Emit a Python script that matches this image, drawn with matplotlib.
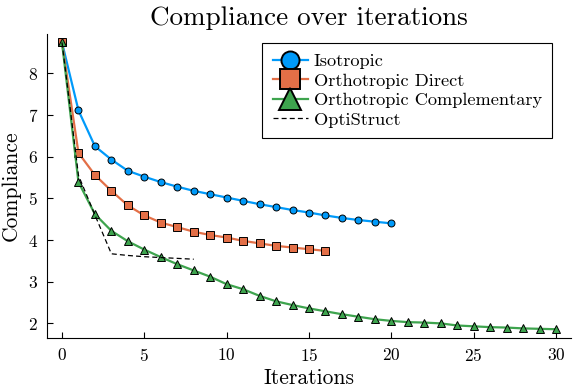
import numpy as np
import matplotlib
matplotlib.use('Agg')
import matplotlib.pyplot as plt

plt.rcParams['font.family'] = 'cmr10'
plt.rcParams['mathtext.fontset'] = 'cm'
plt.rcParams['axes.formatter.use_mathtext'] = True

# Данные
iso_x = list(range(0, 21))
iso_y = [8.74, 7.11, 6.25, 5.93, 5.66, 5.52, 5.39, 5.28, 5.18, 5.10, 5.02,
         4.94, 4.86, 4.79, 4.72, 4.66, 4.59, 4.53, 4.48, 4.44, 4.40]

dir_x = list(range(0, 17))
dir_y = [8.74, 6.09, 5.56, 5.18, 4.83, 4.59, 4.42, 4.31, 4.20, 4.12, 4.06,
         3.98, 3.92, 3.86, 3.82, 3.78, 3.74]

comp_x = list(range(0, 31))
comp_y = [8.74, 5.39, 4.62, 4.22, 3.97, 3.77, 3.59, 3.42, 3.27, 3.12, 2.94,
          2.82, 2.66, 2.53, 2.44, 2.36, 2.29, 2.22, 2.16, 2.10, 2.06,
          2.03, 2.02, 2.00, 1.95, 1.93, 1.91, 1.90, 1.88, 1.87, 1.86]

opti_x = [0, 1, 2, 3, 4, 5, 6, 7, 8]
opti_y = [8.74, 5.55, 4.60, 3.67, 3.63, 3.60, 3.58, 3.56, 3.54]

fig = plt.figure(figsize=(5.81, 3.88), dpi=100)
ax = fig.add_axes([0.0812, 0.1289, 0.9013, 0.7842])

ax.plot(iso_x, iso_y, c='#009AFA', lw=1.6, marker='o', ms=5, mec='black', mew=0.7,
        label='Isotropic')
ax.plot(dir_x, dir_y, c='#E36F47', lw=1.6, marker='s', ms=5.5, mec='black', mew=0.7,
        label='Orthotropic Direct')
ax.plot(comp_x, comp_y, c='#3EA44E', lw=1.6, marker='^', ms=6, mec='black', mew=0.7,
        label='Orthotropic Complementary')
ax.plot(opti_x, opti_y, c='black', lw=0.9, ls=(0, (4, 2.5)), label='OptiStruct')

ax.set_xlim(-0.9, 30.9)
ax.set_ylim(1.65, 8.95)
ax.set_xticks(range(0, 31, 5))
ax.set_yticks(range(2, 9))

ax.spines['top'].set_visible(False)
ax.spines['right'].set_visible(False)
ax.tick_params(direction='in', length=4, labelsize=12.5, pad=6.5)

ax.set_title('Compliance over iterations', fontsize=19.5, pad=6)
ax.set_xlabel('Iterations', fontsize=15.5, labelpad=3)
ax.set_ylabel('Compliance', fontsize=15.5, labelpad=5)

leg = ax.legend(loc='upper right', bbox_to_anchor=(0.964, 0.968), fontsize=13.2,
                fancybox=False, edgecolor='black', framealpha=1, handlelength=1.95,
                handletextpad=0.3, borderpad=0.55, labelspacing=0.2,
                markerscale=2.6, borderaxespad=0)
leg.get_frame().set_linewidth(0.8)
for h in leg.legend_handles[:3]:
    h.set_markeredgewidth(1.4)

plt.savefig('out.png', dpi=100)
